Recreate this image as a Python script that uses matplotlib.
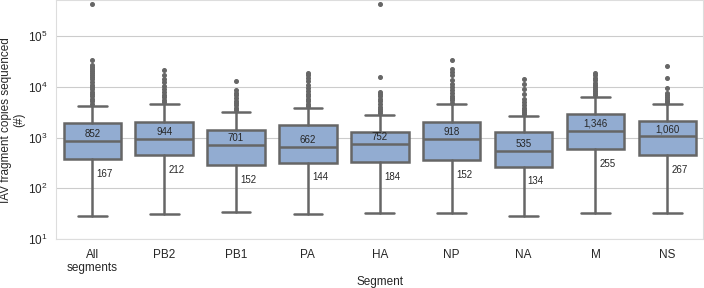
import matplotlib
matplotlib.use('Agg')
import matplotlib.pyplot as plt
import seaborn as sns

sns.set_style('whitegrid')
plt.rcParams['font.family'] = ['Liberation Sans', 'DejaVu Sans']

# values (copies sequenced per fragment)
segments = ['All\nsegments', 'PB2', 'PB1', 'PA', 'HA', 'NP', 'NA', 'M', 'NS']
medians = [852, 944, 701, 662, 752, 918, 535, 1346, 1060]
q1 = [371, 446, 283, 319, 333, 355, 266, 600, 455]
q3 = [1900, 2040, 1440, 1740, 1300, 2030, 1290, 2890, 2140]
whis_lo = [29, 31, 33.5, 31.5, 33, 32, 29, 32.5, 32.5]
whis_hi = [4200, 4580, 3180, 3880, 2750, 4500, 2630, 6360, 4500]
low_labels = [167, 212, 152, 144, 184, 152, 134, 255, 267]

fliers = [
    [4600, 5200, 5800, 6500, 7200, 8000, 9000, 10000, 11000, 12500, 14000,
     15500, 17000, 19000, 21000, 23000, 25000, 27000, 34000, 430000],
    [5000, 5600, 6200, 7000, 8000, 9000, 10500, 12500, 14500, 17500, 21500],
    [3500, 3900, 4300, 4800, 5300, 6000, 6800, 7600, 8700, 12900],
    [4200, 4700, 5200, 5800, 6500, 7300, 8200, 9500, 11000, 13000, 15000,
     17000, 19000],
    [3000, 3300, 3700, 4100, 4600, 5200, 5800, 6500, 7200, 7900, 15500, 430000],
    [4900, 5400, 6000, 6700, 7500, 8500, 9800, 11500, 13500, 17000, 20000,
     23000, 34000],
    [2900, 3200, 3500, 3900, 4300, 5000, 5900, 7400, 9100, 11300, 14000],
    [6900, 7500, 8200, 9000, 9900, 11000, 12200, 13500, 15000, 17000, 19000],
    [4900, 5300, 5800, 6400, 7000, 7600, 9600, 15200, 25700],
]

box_color = '#92acd1'
line_color = '#666666'

stats = []
for i, name in enumerate(segments):
    stats.append({'label': name, 'med': medians[i], 'q1': q1[i], 'q3': q3[i],
                  'whislo': whis_lo[i], 'whishi': whis_hi[i],
                  'fliers': fliers[i]})

fig, ax = plt.subplots(figsize=(7.04, 2.88), dpi=100)
fig.subplots_adjust(left=0.08, right=0.999, top=0.999, bottom=0.17)

ax.bxp(stats, positions=range(len(segments)), widths=0.8, patch_artist=True,
       boxprops=dict(facecolor=box_color, edgecolor=line_color, linewidth=1.8),
       medianprops=dict(color=line_color, linewidth=1.8),
       whiskerprops=dict(color=line_color, linewidth=1.8),
       capprops=dict(color=line_color, linewidth=1.8),
       flierprops=dict(marker='o', markersize=2.6, markerfacecolor=line_color,
                       markeredgecolor=line_color))

ax.set_yscale('log')
ax.set_ylim(10, 5.1e5)
ax.set_xlim(-0.5, len(segments) - 0.5)
ax.set_xticks(range(len(segments)))
ax.set_xticklabels(segments, fontsize=8.5, linespacing=1.1)
ax.tick_params(axis='x', pad=3.5)
ax.tick_params(axis='y', labelsize=8.5, pad=3)
ax.grid(axis='x', visible=False)
ax.set_xlabel('Segment', fontsize=8.5, labelpad=2)
ax.set_ylabel('IAV fragment copies sequenced\n(#)', fontsize=8.5,
              labelpad=2, linespacing=1.1)

for i in range(len(segments)):
    ax.annotate('{:,}'.format(medians[i]), (i, medians[i]),
                xytext=(0, 1.5), textcoords='offset points',
                ha='center', va='bottom', fontsize=7)
    ax.annotate(str(low_labels[i]), (i, q1[i]),
                xytext=(3, -7), textcoords='offset points',
                ha='left', va='top', fontsize=7)

for s in ax.spines.values():
    s.set_color('#dddddd')

fig.savefig('out.png', dpi=100)
